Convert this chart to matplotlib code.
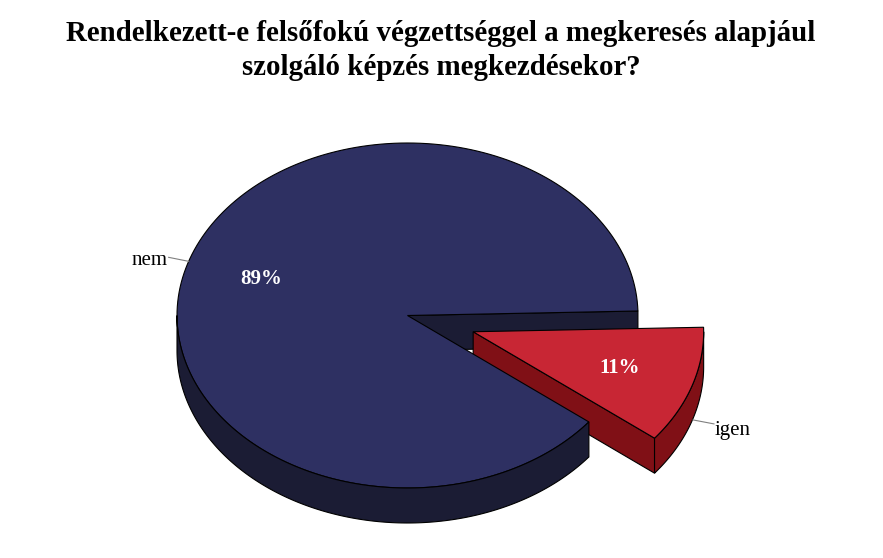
import numpy as np
import matplotlib
matplotlib.use("Agg")
import matplotlib.pyplot as plt
from matplotlib.patches import Polygon

# Survey answers
categories = ["nem", "igen"]
values = [89, 11]
title_lines = ["Rendelkezett-e felsőfokú végzettséggel a megkeresés alapjául",
               "szolgáló képzés megkezdésekor?"]

top_colors = {"nem": "#2E3062", "igen": "#C82634"}
side_colors = {"nem": "#1B1C34", "igen": "#801016"}

# Pie layout (pixel space, y pointing down)
CX, CY = 407.5, 315.5
RX, RY = 230.5, 172.5
DEPTH = 35.0
START = 1.5          # degrees, boundary between the slices
EXPLODE = 0.30       # fraction of radius for the "igen" slice
SERIF = "Liberation Serif"

fig = plt.figure(figsize=(8.83, 5.58), dpi=100)
ax = fig.add_axes([0, 0, 1, 1])
ax.set_xlim(0, 883)
ax.set_ylim(558, 0)
ax.axis("off")


def pt(c, t, r=1.0, dz=0.0):
    a = np.deg2rad(t)
    return (c[0] + r * RX * np.cos(a), c[1] - r * RY * np.sin(a) + dz)


def arc(c, t1, t2, dz=0.0, n=200):
    ts = np.linspace(t1, t2, n)
    return [pt(c, t, 1.0, dz) for t in ts]


def top_face(c, t1, t2, color):
    verts = [c] + arc(c, t1, t2)
    ax.add_patch(Polygon(verts, closed=True, fc=color, ec="black", lw=0.8))


def radial_face(c, t, color):
    e = pt(c, t)
    verts = [c, e, (e[0], e[1] + DEPTH), (c[0], c[1] + DEPTH)]
    ax.add_patch(Polygon(verts, closed=True, fc=color, ec="black", lw=0.8))


def outer_wall(c, t1, t2, color):
    lo, hi = max(t1, 180.0), min(t2, 360.0)
    if hi <= lo:
        return
    verts = arc(c, lo, hi) + arc(c, hi, lo, DEPTH)
    ax.add_patch(Polygon(verts, closed=True, fc=color, ec="black", lw=0.8))


total = float(sum(values))
nem_span = 360.0 * values[0] / total
igen_span = 360.0 * values[1] / total

center = (CX, CY)
nem_t1, nem_t2 = START, START + nem_span
igen_t1, igen_t2 = START + nem_span, START + 360.0
igen_mid = (igen_t1 + igen_t2) / 2.0
nem_mid = (nem_t1 + nem_t2) / 2.0
a = np.deg2rad(igen_mid)
igen_c = (CX + EXPLODE * RX * np.cos(a), CY - EXPLODE * RY * np.sin(a))

# back face of the cut in the large slice
radial_face(center, nem_t1, side_colors["nem"])

# exploded slice
radial_face(igen_c, igen_t1, side_colors["igen"])
outer_wall(igen_c, igen_t1, igen_t2, side_colors["igen"])
top_face(igen_c, igen_t1, igen_t2, top_colors["igen"])

# large slice
top_face(center, nem_t1, nem_t2, top_colors["nem"])
outer_wall(center, nem_t1, nem_t2, side_colors["nem"])

# percentage labels
for c, mid, v in [(center, nem_mid, values[0]), (igen_c, igen_mid, values[1])]:
    x, y = pt(c, mid, 0.67)
    ax.text(x, y, f"{v}%", color="white", fontsize=15, fontweight="bold",
            family=SERIF, ha="center", va="center")

# category labels with leader lines
x0, y0 = pt(center, nem_mid)
ax.plot([x0, x0 - 20], [y0, y0 - 4], color="#808080", lw=0.8)
ax.text(x0 - 21, y0 - 1, categories[0], fontsize=15, family=SERIF,
        ha="right", va="center")

x1, y1 = pt(igen_c, igen_mid, 1.0, DEPTH)
ax.plot([x1 + 1, x1 + 22], [y1 - 1, y1 + 3], color="#808080", lw=0.8)
ax.text(x1 + 23, y1 + 10, categories[1], fontsize=15, family=SERIF,
        ha="left", va="center")

# two-line title, baselines 34 px apart
for line, base in zip(title_lines, [41, 75]):
    ax.text(441, base, line, ha="center", va="baseline", fontsize=20.8,
            fontweight="bold", family=SERIF)

fig.savefig("out.png", dpi=100, facecolor="white")
